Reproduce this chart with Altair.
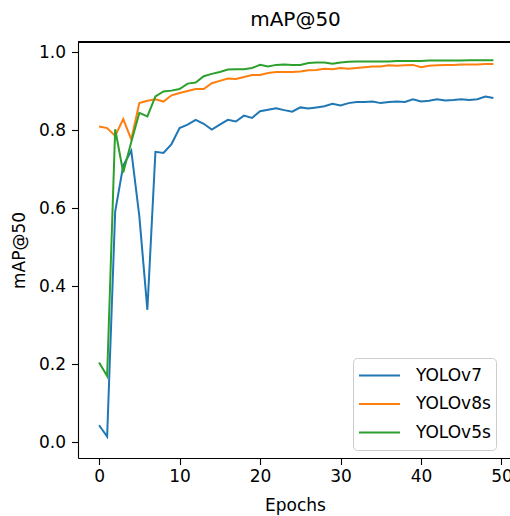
import altair as alt
import pandas as pd

# Validation mAP@50 per training epoch for three detectors
epochs = list(range(50))

yolov7 = [0.044, 0.015, 0.592, 0.710, 0.748, 0.580, 0.340, 0.745, 0.742, 0.765,
          0.806, 0.815, 0.827, 0.817, 0.802, 0.815, 0.827, 0.823, 0.838, 0.832,
          0.849, 0.853, 0.857, 0.852, 0.848, 0.859, 0.856, 0.859, 0.862, 0.868,
          0.864, 0.870, 0.873, 0.873, 0.874, 0.870, 0.873, 0.874, 0.873, 0.880,
          0.874, 0.876, 0.880, 0.877, 0.878, 0.880, 0.878, 0.880, 0.887, 0.883]

yolov8s = [0.810, 0.806, 0.786, 0.829, 0.777, 0.870, 0.876, 0.880, 0.874, 0.890,
           0.896, 0.901, 0.906, 0.906, 0.921, 0.927, 0.933, 0.932, 0.937, 0.942,
           0.942, 0.947, 0.950, 0.950, 0.950, 0.951, 0.954, 0.955, 0.958, 0.957,
           0.960, 0.958, 0.960, 0.962, 0.964, 0.964, 0.967, 0.966, 0.967, 0.968,
           0.962, 0.966, 0.967, 0.968, 0.968, 0.969, 0.969, 0.969, 0.970, 0.970]

yolov5s = [0.205, 0.170, 0.803, 0.692, 0.770, 0.845, 0.836, 0.887, 0.900, 0.902,
           0.906, 0.920, 0.923, 0.939, 0.945, 0.950, 0.956, 0.957, 0.957, 0.960,
           0.968, 0.964, 0.968, 0.969, 0.968, 0.968, 0.973, 0.974, 0.974, 0.971,
           0.974, 0.976, 0.977, 0.977, 0.977, 0.977, 0.977, 0.978, 0.978, 0.978,
           0.978, 0.979, 0.979, 0.979, 0.979, 0.979, 0.980, 0.980, 0.980, 0.980]

models = ["YOLOv7", "YOLOv8s", "YOLOv5s"]
colors = ["#1f77b4", "#ff7f0e", "#2ca02c"]
x_ticks = [0, 10, 20, 30, 40, 50]
y_ticks = [0.0, 0.2, 0.4, 0.6, 0.8, 1.0]

series = {"YOLOv7": yolov7, "YOLOv8s": yolov8s, "YOLOv5s": yolov5s}
df = pd.DataFrame(
    [{"epoch": e, "map50": v, "model": m} for m in models for e, v in zip(epochs, series[m])]
)

FONT = "DejaVu Sans"
W, H = 432, 416
LINE_W = 2.0

x_enc = alt.X(
    "epoch:Q",
    scale=alt.Scale(domain=[-2.62, 51.06], nice=False, zero=False),
    axis=alt.Axis(
        values=x_ticks, grid=False, title="Epochs",
        titleX=217, titleY=52, titleBaseline="alphabetic",
        labelPadding=4,
    ),
)
y_enc = alt.Y(
    "map50:Q",
    scale=alt.Scale(domain=[-0.040, 1.0267], nice=False, zero=False),
    axis=alt.Axis(
        values=y_ticks, format=".1f", grid=False, title="mAP@50",
        titleX=-54, titleY=H / 2, titleBaseline="alphabetic",
        labelPadding=6,
    ),
)
color_enc = alt.Color(
    "model:N",
    scale=alt.Scale(domain=models, range=colors),
    legend=alt.Legend(
        orient="none", legendX=275, legendY=316, title=None,
        symbolType="stroke", symbolSize=1681, symbolStrokeWidth=LINE_W,
        labelFont=FONT, labelFontSize=17, labelColor="black", labelOffset=15,
        padding=5, strokeColor="#cccccc", fillColor="white", cornerRadius=4,
        clipHeight=25, rowPadding=3.5,
    ),
)

# one layer per model so later series are drawn on top
layers = [
    alt.Chart(df)
    .transform_filter(alt.datum.model == m)
    .mark_line(strokeWidth=LINE_W)
    .encode(x=x_enc, y=y_enc, color=color_enc)
    for m in models
]

# top frame line
top_spine = alt.Chart(df).mark_rule(color="black", strokeWidth=1.1).encode(
    x=alt.value(0), x2=alt.value(W), y=alt.value(0)
)

chart = (
    alt.layer(*layers, top_spine)
    .properties(
        width=W, height=H,
        title=alt.TitleParams("mAP@50", font=FONT, fontSize=20, fontWeight="normal",
                              color="black", anchor="middle", offset=11, dx=1.5),
        autosize=alt.AutoSizeParams(type="none"),
        padding={"left": 78, "top": 42, "right": 0, "bottom": 58},
    )
    .configure_view(stroke=None)
    .configure_axis(
        labelFont=FONT, labelFontSize=17, labelColor="black",
        titleFont=FONT, titleFontSize=17, titleFontWeight="normal", titleColor="black",
        domainColor="black", domainWidth=1.1,
        tickColor="black", tickWidth=1.1, tickSize=6.5,
    )
)

chart.save("out.html", embed_options={"renderer": "svg", "actions": False})
